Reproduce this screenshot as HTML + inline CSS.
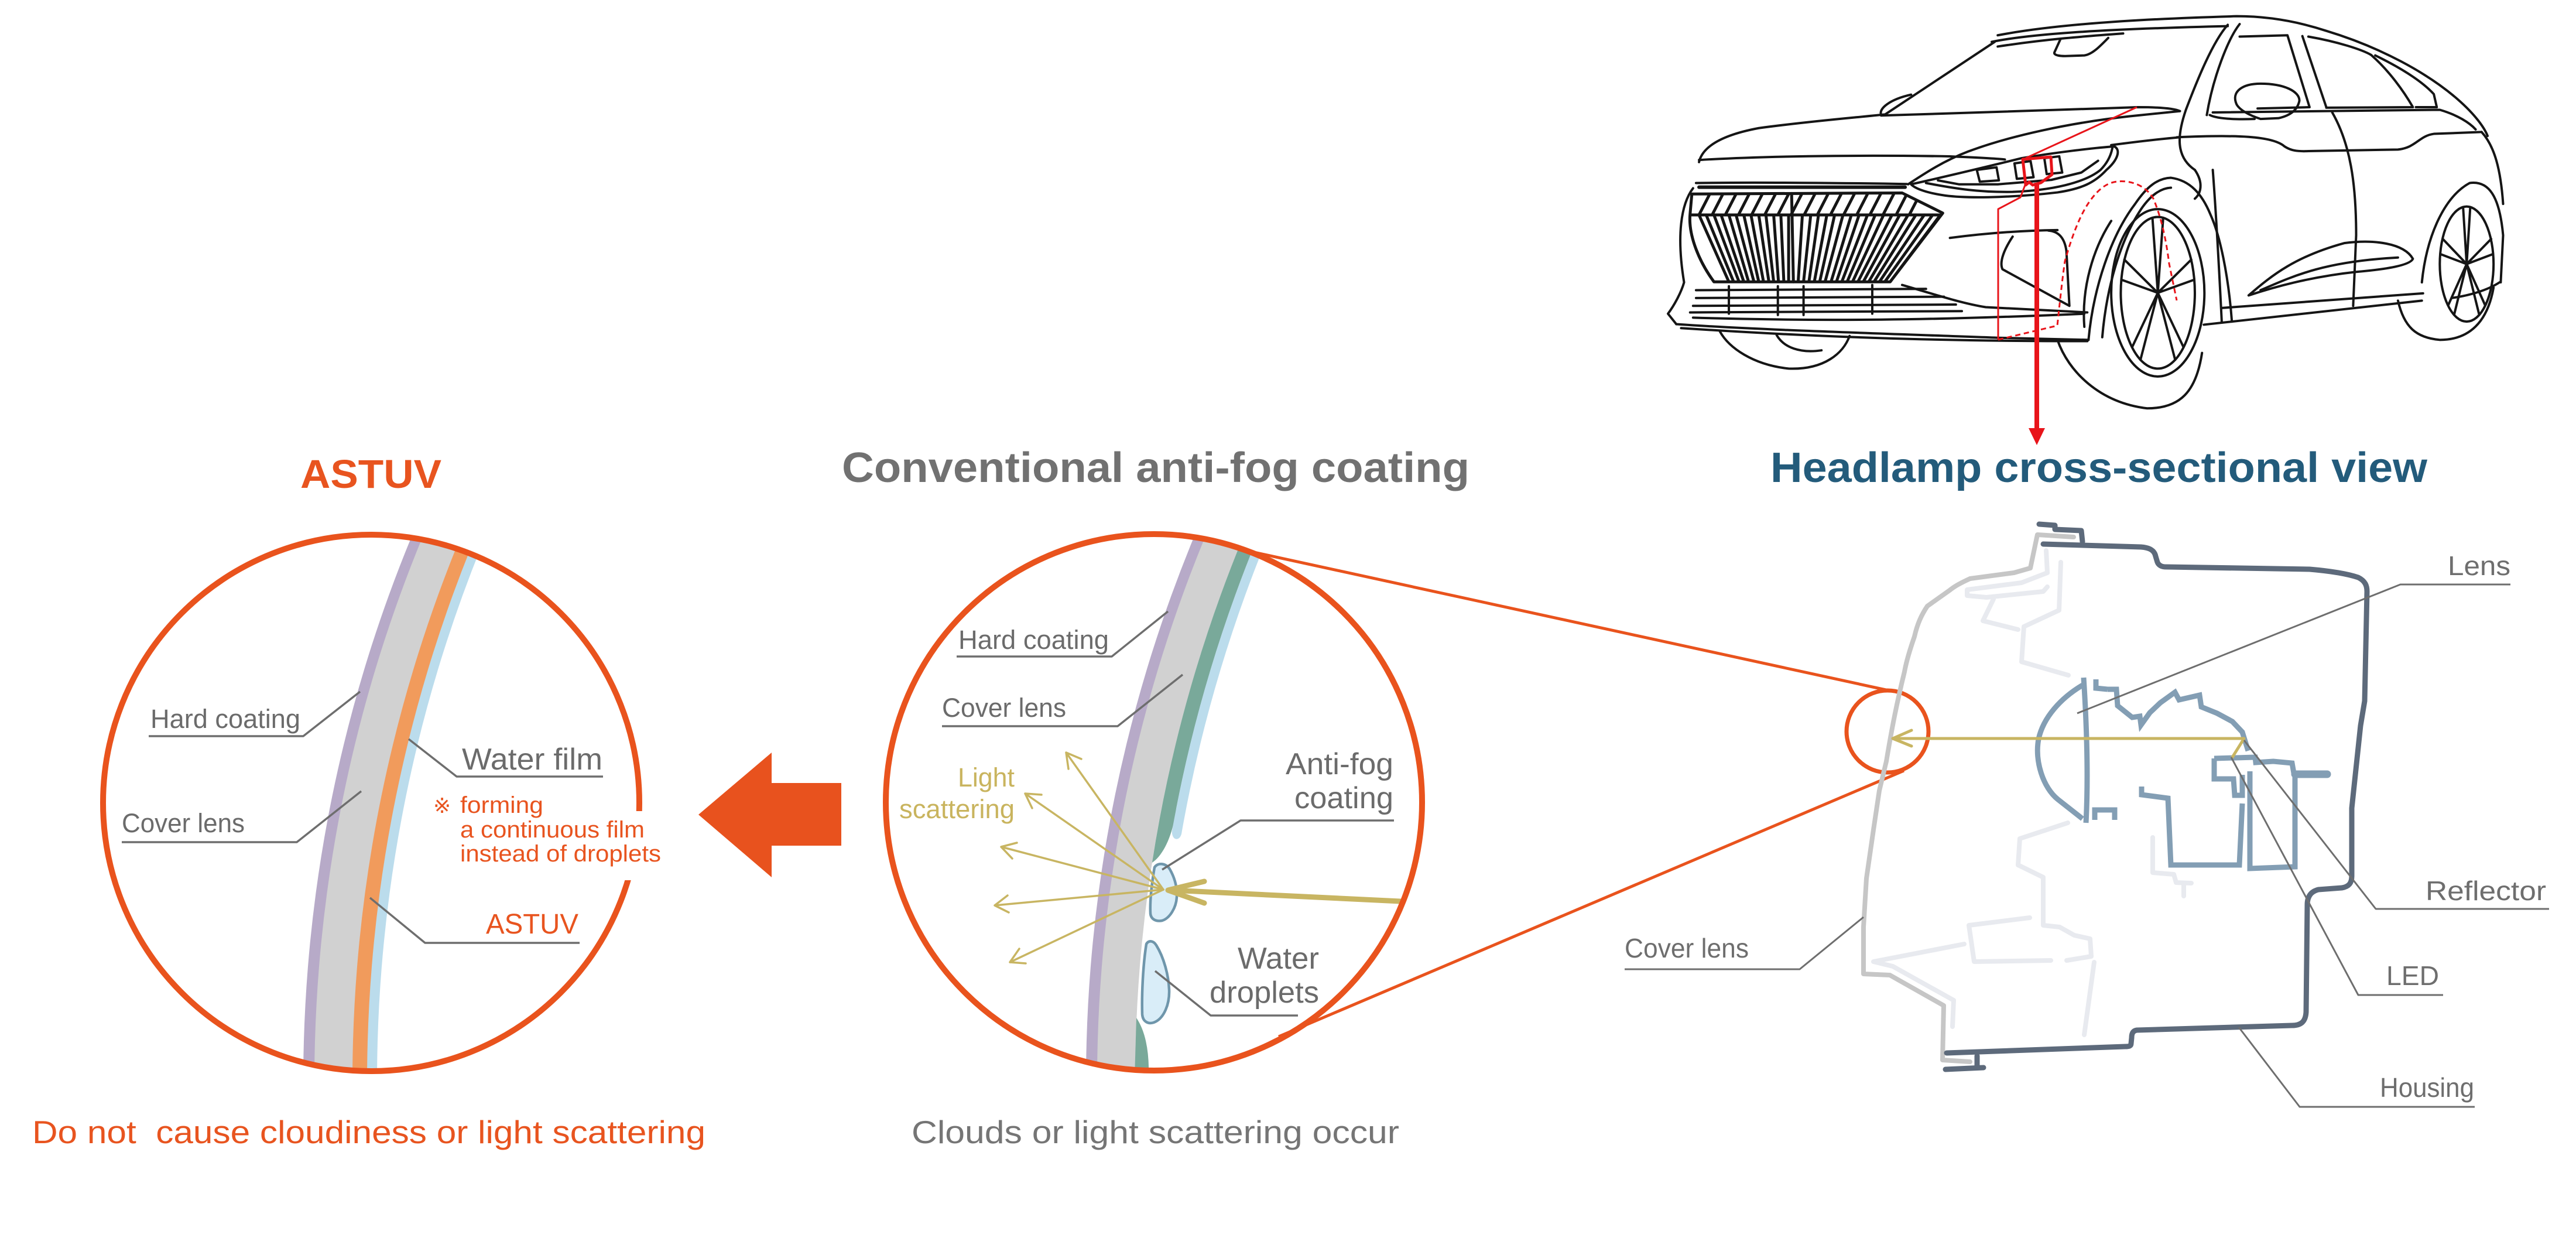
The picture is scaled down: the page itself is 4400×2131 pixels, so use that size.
<!DOCTYPE html>
<html><head><meta charset="utf-8">
<style>
html,body{margin:0;padding:0;background:#fff;width:4400px;height:2131px;overflow:hidden;}
svg{display:block;overflow:hidden;}
.ns *{vector-effect:non-scaling-stroke;}
text{font-family:"Liberation Sans","DejaVu Sans",sans-serif;}
</style></head>
<body>
<svg width="4400" height="2131" viewBox="0 0 4400 2131" xmlns="http://www.w3.org/2000/svg">
<defs>
<clipPath id="cL"><circle cx="634" cy="1371" r="454"/></clipPath>
<clipPath id="cM"><circle cx="1971" cy="1370" r="454"/></clipPath>
<clipPath id="gc"><path d="M88,742 L440,738 L508,815 L420,1078 L125,1078 C100,1000 82,900 85,820 Z"/></clipPath>
</defs>
<rect width="4400" height="2131" fill="#fff"/>

<!-- ================= CAR ================= -->
<g class="ns" transform="translate(2800,0) scale(1.0204,0.4464)" fill="none" stroke="#151515" stroke-width="4" stroke-linecap="round" stroke-linejoin="round">
<path d="M600,135 C680,100 800,75 1000,62 C1060,62 1110,88 1150,118 C1240,180 1320,280 1370,380 C1400,440 1415,490 1420,520"/>
<path d="M590,160 C650,132 760,112 985,100"/>
<path d="M410,440 L595,160"/>
<path d="M405,440 C400,415 420,380 455,362"/>
<path d="M405,442 C550,432 700,420 835,410 C870,410 895,415 905,425"/>
<path d="M600,178 C680,150 750,138 810,128"/>
<path d="M705,150 L695,200 C693,212 705,216 720,214 L745,212 C758,208 770,180 785,145"/>
<path d="M985,95 C960,160 935,300 915,420 C900,520 898,600 930,650"/>
<path d="M1005,92 C985,150 960,300 950,440"/>
<path d="M1005,140 L1085,135 L1122,410 L1035,415"/>
<path d="M1110,138 L1150,410"/>
<path d="M1120,140 C1170,160 1210,190 1225,210 C1255,270 1280,350 1295,410 L1150,412"/>
<path d="M1232,212 C1275,260 1310,310 1330,360 L1335,410 L1300,410"/>
<path d="M960,430 L1340,420 C1370,440 1390,470 1400,495"/>
<path d="M1000,400 C990,350 1010,320 1040,320 C1080,320 1105,350 1105,385 C1102,420 1090,442 1070,452 L1040,455 C1020,440 1005,420 1000,400 Z"/>
<path d="M955,440 C965,452 990,458 1030,455"/>
<path d="M900,525 C1000,515 1060,520 1080,560 C1090,575 1100,580 1120,578 L1270,572 C1300,565 1305,520 1330,512 L1410,505"/>
<path d="M100,620 C105,570 130,520 200,490 C280,465 360,450 410,438"/>
<path d="M100,612 C200,598 350,592 520,598 C560,602 600,606 612,610"/>
<path d="M450,705 C480,660 510,615 550,580 C620,520 720,470 820,445 L905,425"/>
<path d="M790,555 C840,540 880,530 905,525"/>
<path d="M455,705 C500,682 560,650 640,605 C700,582 760,566 795,560 C806,572 802,610 782,650 C762,700 740,722 700,736 C640,752 560,762 512,748 C482,738 462,722 455,705 Z"/>
<path d="M480,700 C530,722 570,736 625,734 C690,728 745,700 772,650 C785,620 790,590 792,565"/>
<path d="M500,690 L535,705 L600,705 L690,688 L740,660 L768,615"/>
<path d="M565,650 L598,640 L602,690 L570,695 Z M628,625 L655,616 L660,678 L632,684 Z M678,605 L703,598 L708,660 L682,666 Z"/>
<path d="M88,742 L440,738 L508,815 L420,1078 L125,1078 C100,1000 82,900 85,820 Z" stroke-width="5"/>
<path d="M100,716 L445,716" stroke-width="6"/>
<path d="M95,700 C200,697 350,700 448,704"/>
<path d="M88,822 L505,822" stroke-width="5"/>
<g clip-path="url(#gc)" stroke-width="5">
<path d="M100,822 L150,1078 M112,822 L158,1078 M125,822 L167,1078 M137,822 L175,1078 M150,822 L183,1078 M162,822 L192,1078 M175,822 L200,1078 M187,822 L208,1078 M200,822 L217,1078 M212,822 L225,1078 M225,822 L233,1078 M237,822 L242,1078 M250,822 L250,1078"/>
<path d="M273,822 L266,1078 M287,822 L275,1078 M300,822 L284,1078 M314,822 L293,1078 M327,822 L302,1078 M341,822 L311,1078 M355,822 L321,1078 M368,822 L330,1078 M382,822 L339,1078 M395,822 L348,1078 M409,822 L357,1078 M423,822 L366,1078 M436,822 L375,1078 M450,822 L384,1078 M463,822 L393,1078 M477,822 L402,1078 M491,822 L411,1078 M504,822 L420,1078"/>
<path d="M100,822 L118,742 M122,822 L140,742 M144,822 L162,742 M166,822 L184,742 M188,822 L206,742 M210,822 L228,742 M232,822 L250,742 M254,822 L272,742 M276,822 L294,742 M298,822 L316,742 M320,822 L338,742 M342,822 L360,742 M364,822 L382,742 M386,822 L404,742 M408,822 L426,742 M430,822 L448,742 M452,822 L470,742"/>
</g>
<path d="M255,740 L258,1078" stroke-width="5"/>
<path d="M90,720 C70,780 62,900 75,1080 C70,1120 58,1170 48,1200 L62,1240"/>
<path d="M62,1240 C200,1262 400,1275 600,1292 L752,1300"/>
<path d="M70,1255 C300,1290 500,1305 750,1305"/>
<path d="M90,1215 C300,1230 500,1225 745,1200"/>
<path d="M95,1110 L480,1105 M95,1140 L510,1135 M90,1170 L530,1165 M85,1195 L540,1190"/>
<path d="M150,1095 L150,1200 M232,1095 L232,1205 M275,1095 L275,1205 M390,1090 L390,1200"/>
<path d="M440,1090 C500,1130 540,1160 580,1175 L750,1195"/>
<path d="M520,910 C570,895 630,882 700,880"/>
<path d="M625,905 C612,950 602,1000 608,1030 L720,1170 L715,960 C712,910 702,885 685,882"/>
<path d="M135,1268 C150,1330 190,1395 250,1410 C310,1415 342,1350 352,1285"/>
<path d="M230,1282 C242,1330 270,1352 305,1340"/>
<path d="M752,1300 C760,1100 790,900 830,780 C850,712 868,682 890,680 C922,690 942,742 956,820 C972,900 986,1050 992,1230"/>
<path d="M775,1290 C782,1100 805,920 840,800 C855,750 872,720 890,718"/>
<path d="M700,1300 C718,1420 770,1540 850,1562 C905,1562 932,1500 942,1350"/>
<path d="M745,1250 C740,1100 760,950 790,845"/>
<ellipse cx="868" cy="1120" rx="62" ry="290"/>
<ellipse cx="868" cy="1120" rx="78" ry="320"/>
<path d="M868,1120 L859,833 M868,1120 L877,833 M868,1120 L924,993 M868,1120 L929,1070 M868,1120 L911,1328 M868,1120 L897,1376 M868,1120 L839,1376 M868,1120 L825,1328 M868,1120 L807,1070 M868,1120 L812,993"/>
<path d="M945,1242 L1310,1150"/>
<path d="M975,1178 L1312,1122"/>
<path d="M1020,1130 C1060,1050 1100,980 1180,930 C1230,915 1280,930 1295,990 C1290,1015 1250,1030 1200,1040 C1120,1060 1060,1100 1020,1130"/>
<path d="M1040,1110 C1100,1050 1150,1000 1270,985"/>
<path d="M960,650 C965,800 970,1000 975,1230"/>
<path d="M1160,430 C1190,550 1200,700 1200,900 L1195,1170"/>
<path d="M1310,1080 C1318,900 1348,752 1390,700 C1422,690 1440,750 1446,900 L1442,1080"/>
<path d="M1270,1150 C1280,1250 1300,1292 1340,1300 C1390,1300 1420,1230 1430,1100"/>
<ellipse cx="1385" cy="1010" rx="45" ry="220"/>
<path d="M1385,1010 L1379,792 M1385,1010 L1391,792 M1385,1010 L1426,914 M1385,1010 L1429,972 M1385,1010 L1416,1168 M1385,1010 L1406,1204 M1385,1010 L1364,1204 M1385,1010 L1354,1168 M1385,1010 L1341,972 M1385,1010 L1345,914"/>
<path d="M1410,505 C1432,560 1442,650 1446,780"/>
<path d="M930,650 C945,700 940,740 930,760"/>
<path d="M1440,1080 C1420,1110 1390,1130 1360,1140"/>
</g>

<!-- red overlay on car -->
<g fill="none" stroke="#E8141A" stroke-linejoin="round">
<path d="M3460,270 L3650,183" stroke-width="3"/>
<path d="M3455,272 L3503,268 L3505,298 L3486,312 L3472,316 L3466,311 L3460,316 Z" stroke-width="5"/>
<path d="M3459,316 L3451,337 L3413,357 L3413,580" stroke-width="3"/>
<path d="M3413,580 L3514,556 C3518,520 3522,480 3527,446 C3540,400 3555,360 3576,335 C3595,312 3612,308 3632,310 C3655,313 3670,325 3678,339 C3692,372 3700,410 3705,450 L3718,513" stroke-width="3" stroke-dasharray="9 6"/>
<path d="M3479,312 L3479,738" stroke-width="8"/>
</g>
<polygon points="3465,731 3493,731 3479,760" fill="#E8141A"/>

<!-- ================= TITLES ================= -->
<text x="513" y="833" font-size="69" font-weight="bold" fill="#E8541F" textLength="241" lengthAdjust="spacingAndGlyphs">ASTUV</text>
<text x="1438" y="823" font-size="72" font-weight="bold" fill="#717171" textLength="1072" lengthAdjust="spacingAndGlyphs">Conventional anti-fog coating</text>
<text x="3024" y="823" font-size="72" font-weight="bold" fill="#235B7B" textLength="1122" lengthAdjust="spacingAndGlyphs">Headlamp cross-sectional view</text>

<!-- ================= LEFT CIRCLE (ASTUV) ================= -->
<g clip-path="url(#cL)">
<path d="M718.4,880 A2438,2438 0 0 0 518,1860 L1200,1860 L1200,880 Z" fill="#B7AAC8"/>
<path d="M737.4,880 A2438,2438 0 0 0 537,1860 L1200,1860 L1200,880 Z" fill="#D1D1D1"/>
<path d="M802.4,880 A2438,2438 0 0 0 602,1860 L1200,1860 L1200,880 Z" fill="#F19B5C"/>
<path d="M827.4,880 A2438,2438 0 0 0 627,1860 L1200,1860 L1200,880 Z" fill="#BBDCEC"/>
<path d="M844.4,880 A2438,2438 0 0 0 644,1860 L1200,1860 L1200,880 Z" fill="#fff"/>
</g>
<circle cx="634" cy="1371" r="458" fill="none" stroke="#E9531D" stroke-width="10"/>
<rect x="1055" y="1385" width="60" height="118" fill="#fff"/>

<g fill="none" stroke="#6E6E6E" stroke-width="3.5" stroke-linejoin="round">
<path d="M254,1257 L518,1257 L615,1181"/>
<path d="M208,1438 L507,1438 L617,1351"/>
<path d="M1030,1326 L780,1326 L698,1262"/>
<path d="M990,1610 L726,1610 L632,1533"/>
</g>
<g fill="#6B6B6B">
<text x="257" y="1243" font-size="45" textLength="256" lengthAdjust="spacingAndGlyphs">Hard coating</text>
<text x="208" y="1421" font-size="45" textLength="210" lengthAdjust="spacingAndGlyphs">Cover lens</text>
<text x="789" y="1314" font-size="52" textLength="240" lengthAdjust="spacingAndGlyphs">Water film</text>
</g>
<g fill="#E8541F">
<text x="740" y="1388" font-size="36" font-family="'Noto Sans CJK JP',sans-serif">※</text>
<text x="786" y="1388" font-size="40" textLength="142" lengthAdjust="spacingAndGlyphs">forming</text>
<text x="786" y="1430" font-size="40" textLength="315" lengthAdjust="spacingAndGlyphs">a continuous film</text>
<text x="786" y="1471" font-size="40" textLength="343" lengthAdjust="spacingAndGlyphs">instead of droplets</text>
<text x="830" y="1594" font-size="48" textLength="158" lengthAdjust="spacingAndGlyphs">ASTUV</text>
<text x="55" y="1952" font-size="55" textLength="1150" lengthAdjust="spacingAndGlyphs">Do not&#160; cause cloudiness or light scattering</text>
</g>

<!-- big orange arrow -->
<polygon points="1193,1391 1318,1285 1318,1337 1437,1337 1437,1444 1318,1444 1318,1498" fill="#E8521E"/>

<!-- ================= MIDDLE CIRCLE (Conventional) ================= -->
<g clip-path="url(#cM)">
<path d="M2055,880 A2438,2438 0 0 0 1855,1860 L2500,1860 L2500,880 Z" fill="#B7AAC8"/>
<path d="M2074,880 A2438,2438 0 0 0 1874,1860 L2500,1860 L2500,880 Z" fill="#D1D1D1"/>
<path d="M2139,880 A2438,2438 0 0 0 1939,1860 L2500,1860 L2500,880 Z" fill="#fff"/>
<path d="M2139,880 A2438,2438 0 0 0 1967.9,1473 C1985,1462 2003,1430 2009.2,1380 A2438,2438 0 0 1 2164,880 Z" fill="#79A99A"/>
<path d="M2164,880 A2438,2438 0 0 0 2001.7,1420 C2002,1437 2017,1437 2018.7,1420 A2438,2438 0 0 1 2181,880 Z" fill="#BBDCEC"/>
<path d="M1941,1738 Q1964,1772 1962,1840 L1938,1840 Z" fill="#79A99A"/>
</g>
<g fill="#D9EDF8" stroke="#6F96AB" stroke-width="4.5" stroke-linejoin="round">
<path d="M1972,1481 C1978,1472 1992,1474 1998,1484 C2006,1498 2011,1515 2010,1532 C2009,1550 1998,1568 1985,1572 C1975,1574 1966,1570 1965,1560 C1964,1540 1967,1510 1972,1481 Z"/>
<path d="M1958,1612 C1962,1605 1970,1606 1975,1614 C1988,1635 1996,1665 1997,1690 C1998,1715 1988,1738 1973,1745 C1962,1750 1952,1745 1951,1732 C1950,1700 1952,1650 1958,1612 Z"/>
</g>
<g fill="none" stroke="#C8B562" stroke-linecap="round" stroke-linejoin="round">
<path d="M2392,1539 L2000,1520" stroke-width="9"/>
<path d="M2057,1505 L1995,1520 L2057,1542" stroke-width="9"/>
<g stroke-width="3.5">
<path d="M1987,1519 L1821,1285 M1825,1313 L1821,1285 L1847,1296"/>
<path d="M1987,1519 L1751,1355 M1763,1380 L1751,1355 L1779,1357"/>
<path d="M1987,1519 L1710,1446 M1729,1466 L1710,1446 L1737,1439"/>
<path d="M1987,1519 L1699,1546 M1723,1558 L1699,1546 L1721,1529"/>
<path d="M1987,1519 L1725,1643 M1752,1645 L1725,1643 L1741,1620"/>
</g>
</g>
<circle cx="1971" cy="1370" r="458" fill="none" stroke="#E9531D" stroke-width="10"/>
<g stroke="#E9531D" stroke-width="5" fill="none">
<path d="M2119,938 L3226,1179"/>
<path d="M2184,1770 L3252,1316"/>
<circle cx="3224" cy="1249" r="70" stroke-width="7"/>
</g>

<g fill="none" stroke="#6E6E6E" stroke-width="3.5" stroke-linejoin="round">
<path d="M1634,1121 L1899,1121 L1995,1044"/>
<path d="M1609,1240 L1909,1240 L2020,1152"/>
<path d="M2381,1401 L2119,1401 L1985,1485"/>
<path d="M2217,1734 L2068,1734 L1973,1658"/>
</g>
<g fill="#6B6B6B">
<text x="1637" y="1108" font-size="45" textLength="257" lengthAdjust="spacingAndGlyphs">Hard coating</text>
<text x="1609" y="1224" font-size="45" textLength="212" lengthAdjust="spacingAndGlyphs">Cover lens</text>
<text x="2196" y="1322" font-size="52" textLength="184" lengthAdjust="spacingAndGlyphs">Anti-fog</text>
<text x="2211" y="1380" font-size="52" textLength="169" lengthAdjust="spacingAndGlyphs">coating</text>
<text x="2114" y="1654" font-size="52" textLength="139" lengthAdjust="spacingAndGlyphs">Water</text>
<text x="2066" y="1712" font-size="52" textLength="187" lengthAdjust="spacingAndGlyphs">droplets</text>
</g>
<g fill="#C9B45E">
<text x="1636" y="1343" font-size="45" textLength="97" lengthAdjust="spacingAndGlyphs">Light</text>
<text x="1536" y="1397" font-size="45" textLength="197" lengthAdjust="spacingAndGlyphs">scattering</text>
</g>
<text x="1557" y="1952" font-size="55" fill="#757575" textLength="833" lengthAdjust="spacingAndGlyphs">Clouds or light scattering occur</text>

<!-- ================= HEADLAMP ================= -->
<g fill="none" stroke="#E8EAEF" stroke-width="8" stroke-linecap="round" stroke-linejoin="round">
<path d="M3495,940 L3497,978 L3453,995 L3360,1007 L3360,1017 L3393,1020 L3490,1010 L3497,1002"/>
<path d="M3405,1023 L3387,1060 L3447,1075"/>
<path d="M3520,960 L3517,1042 L3457,1070 L3453,1130 L3533,1153"/>
<path d="M3532,1405 L3450,1432 L3447,1477 L3490,1498 L3490,1580 L3518,1583 L3543,1597 L3570,1603 L3572,1633 L3530,1640"/>
<path d="M3467,1567 L3363,1580 L3372,1642 L3503,1640"/>
<path d="M3355,1612 L3200,1642 L3233,1650 L3337,1708 L3335,1753"/>
<path d="M3577,1643 L3560,1767"/>
<path d="M3677,1430 L3677,1490 L3713,1493 L3717,1507 L3743,1508 M3730,1510 L3730,1530"/>
</g>
<path d="M3542,917 L3480,913 L3468,970 L3440,978 L3365,988 C3350,995 3340,1000 3330,1008 L3292,1035 C3282,1050 3275,1065 3270,1087 C3262,1110 3256,1130 3253,1147 C3240,1200 3232,1240 3222,1300 L3210,1350 L3200,1417 L3188,1500 L3183,1583 L3183,1663 L3228,1665 L3320,1717 L3318,1810 L3365,1813" fill="none" stroke="#C6C6C6" stroke-width="8" stroke-linejoin="round" stroke-linecap="round"/>
<g fill="none" stroke="#5D6A7B" stroke-width="9" stroke-linejoin="round" stroke-linecap="round">
<path d="M3483,895 L3510,897 L3510,904 L3555,906 L3557,925"/>
<path d="M3490,929 L3657,934 C3672,935 3680,940 3682,950 L3685,960 C3687,965 3692,968 3700,968 L3945,972 C3980,975 4010,980 4028,986 C4040,992 4043,1000 4043,1010 L4039,1197 L4032,1239 L4017,1380 L4017,1496 C4017,1508 4012,1514 4000,1516 L3960,1519 C3948,1522 3941,1530 3941,1545 L3939,1728 C3938,1745 3930,1751 3915,1751 L3650,1759 C3643,1760 3641,1765 3641,1772 L3640,1782 C3640,1786 3637,1787 3630,1787 L3325,1798"/>
<path d="M3377,1803 L3377,1823 M3323,1826 L3388,1823"/>
</g>
<g fill="none" stroke="#839EB4" stroke-width="9" stroke-linejoin="miter">
<path d="M3559,1157 C3565,1250 3567,1330 3563,1405"/>
<path d="M3557,1170 C3520,1192 3490,1225 3482,1262 C3475,1300 3490,1345 3515,1365 L3557,1398"/>
<path d="M3600,1177 L3615,1177 L3617,1205 L3642,1225 L3655,1223 L3657,1238 L3672,1217 L3690,1200 L3715,1182 L3722,1195 L3757,1187 L3760,1207 L3787,1218 L3813,1232 L3830,1250 L3840,1282"/>
<path d="M3580,1160 L3580,1175 L3600,1177"/>
<path d="M3578,1400 L3578,1383 L3612,1383 L3612,1400"/>
<path d="M3658,1343 L3658,1357 L3703,1363 L3708,1477 L3825,1477 L3830,1372"/>
<path d="M3782,1295 L3852,1293 L3853,1302 L3883,1300 L3915,1303 L3918,1320 L3975,1322"/>
<path d="M3782,1295 L3782,1330 L3815,1330 L3817,1358 L3830,1358 L3830,1323"/>
<path d="M3843,1317 L3843,1483 L3920,1480 L3920,1327"/>
<path d="M3920,1322 L3975,1322" stroke-width="13" stroke-linecap="round"/>
</g>
<g fill="none" stroke="#C8B562" stroke-width="5" stroke-linecap="round" stroke-linejoin="round">
<path d="M3233,1261 L3833,1261 L3813,1293"/>
<path d="M3265,1247 L3233,1261 L3265,1274"/>
</g>
<g fill="none" stroke="#6E6E6E" stroke-width="3" stroke-linejoin="round">
<path d="M4288,998 L4100,998 L3548,1218"/>
<path d="M4354,1552 L4058,1552 L3833,1264"/>
<path d="M4173,1699 L4028,1699 L3811,1293"/>
<path d="M4227,1890 L3928,1890 L3824,1754"/>
<path d="M2775,1655 L3074,1655 L3183,1566"/>
</g>
<g fill="#6E6E6E">
<text x="4181" y="982" font-size="46" textLength="107" lengthAdjust="spacingAndGlyphs">Lens</text>
<text x="4143" y="1537" font-size="46" textLength="206" lengthAdjust="spacingAndGlyphs">Reflector</text>
<text x="4076" y="1682" font-size="46" textLength="90" lengthAdjust="spacingAndGlyphs">LED</text>
<text x="4065" y="1873" font-size="46" textLength="161" lengthAdjust="spacingAndGlyphs">Housing</text>
<text x="2775" y="1635" font-size="46" textLength="212" lengthAdjust="spacingAndGlyphs">Cover lens</text>
</g>
</svg>
</body></html>
